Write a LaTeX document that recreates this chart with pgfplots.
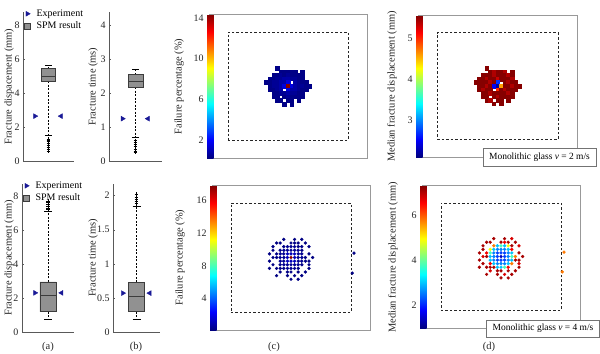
\documentclass[border=0pt]{standalone}
\usepackage{fontspec}
\setmainfont{Liberation Serif}
\usepackage{pgfplots}
\usepackage{pgfplotstable}
\pgfplotsset{compat=1.18}

\definecolor{boxgray}{RGB}{145,145,145}
\definecolor{boxedge}{RGB}{60,60,60}
\definecolor{expblue}{RGB}{25,25,150}

% top map cells: x y  failure% (c)  median displacement (d)
\pgfplotstableread{
x y p d
-3 5 0.3 5.54
-2 4 0.3 5.54
-1 4 0.3 5.4
0 4 0.3 5.54
1 4 0.3 5.54
2 4 0.3 5.4
4 4 0.3 5.54
-4 3 0.3 5.54
-3 3 0.3 5.54
-2 3 0.5 5.54
-1 3 0.3 5.4
0 3 0.5 5.54
1 3 0.3 5.54
2 3 0.3 5.54
3 3 0.3 5.4
4 3 0.3 5.54
-5 2 0.3 5.54
-4 2 0.3 5.54
-3 2 0.5 5.4
-2 2 0.5 5.54
-1 2 0.75 5.54
0 2 0.75 5.3
1 2 0.5 5.54
2 2 0.5 5.54
3 2 0.3 5.54
4 2 0.3 5.4
-6 1 0.3 5.54
-5 1 0.3 5.54
-4 1 0.5 5.54
-3 1 0.5 5.54
-2 1 0.75 5.4
-1 1 0.75 5.54
0 1 1.5 2.7
2 1 0.75 5.54
3 1 0.5 5.4
4 1 0.3 5.54
5 1 0.3 5.54
-5 0 0.3 5.54
-4 0 0.5 5.54
-3 0 0.5 5.4
-2 0 0.75 5.54
-1 0 1.5 2.5
0 0 14.3 2.2
1 0 1.5 4.6
2 0 0.75 5.54
3 0 0.5 5.54
4 0 0.5 5.4
5 0 0.3 5.54
6 0 0.3 5.54
-5 -1 0.3 5.54
-4 -1 0.3 5.4
-3 -1 0.5 5.54
-2 -1 0.75 5.54
0 -1 1.5 5.0
1 -1 0.75 5.54
2 -1 0.75 5.4
3 -1 0.5 5.54
4 -1 0.3 5.54
5 -1 0.3 5.54
-4 -2 0.3 5.54
-3 -2 0.3 5.54
-2 -2 0.5 5.4
-1 -2 0.5 5.54
0 -2 0.75 5.54
1 -2 0.5 5.54
2 -2 0.5 5.54
3 -2 0.3 5.4
4 -2 0.3 5.54
-4 -3 0.3 5.54
-3 -3 0.3 5.54
-1 -3 0.3 5.54
0 -3 0.5 5.4
1 -3 0.3 5.54
2 -3 0.3 5.54
3 -3 0.3 5.54
4 -3 0.3 5.54
-3 -4 0.3 5.54
-2 -4 0.3 5.4
0 -4 0.3 5.54
1 -4 0.3 5.54
3 -4 0.3 5.54
-1 -5 0.3 5.54
1 -5 0.3 5.54
}\toppts

% bottom map points
\pgfplotstableread{
x y p d
-1 3 0.5 3.0
0 3 0.5 3.8
1 3 0.5 3.0
-2 2 0.5 3.0
-1 2 0.5 2.6
0 2 0.5 2.6
1 2 0.5 2.6
2 2 0.5 3.0
-3 1 0.5 3.8
-2 1 0.5 2.6
-1 1 1.2 2.2
0 1 1.2 2.2
1 1 1.2 2.2
2 1 0.5 2.6
3 1 0.5 3.0
-3 0 0.5 3.0
-2 0 0.5 2.6
-1 0 1.2 2.2
1 0 1.2 2.2
2 0 0.5 2.6
3 0 0.5 3.8
-3 -1 0.5 3.0
-2 -1 0.5 2.6
-1 -1 1.2 2.2
0 -1 1.2 2.2
1 -1 1.2 2.2
2 -1 0.5 2.6
3 -1 0.5 3.0
-2 -2 0.5 3.0
-1 -2 0.5 2.6
0 -2 0.5 2.6
1 -2 0.5 2.6
2 -2 0.5 3.0
-1 -3 0.5 3.0
0 -3 0.5 3.0
1 -3 0.5 3.8
-2 3 0.3 5.8
2 3 0.3 4.9
-3 2 0.3 4.9
3 2 0.3 6.6
-3 -2 0.3 6.6
3 -2 0.3 5.8
-2 -3 0.3 7.1
2 -3 0.3 6.6
-4 0 0.3 7.1
4 0 0.3 5.8
0 4 0.3 7.1
0 -4 0.3 7.1
-4 1 0.3 6.6
4 -1 0.3 7.1
1 4 0.3 6.6
-1 -4 0.3 7.1
3 3 0.3 7.1
-3 -3 0.3 7.1
-2 5 0.25 7.1
1 5 0.25 7.1
3 5 0.25 6.8
-4 4 0.25 7.1
-3 4 0.25 7.1
2 4 0.25 7.1
4 4 0.25 7.1
-5 3 0.25 7.1
5 3 0.25 6.8
-5 2 0.25 7.1
-6 1 0.25 7.1
5 1 0.25 7.1
-5 0 0.25 6.8
6 0 0.25 7.1
-6 -1 0.25 7.1
5 -1 0.25 7.1
-5 -2 0.25 7.1
5 -2 0.25 6.8
-6 -3 0.25 7.1
-4 -3 0.25 7.1
5 -3 0.25 7.1
-3 -4 0.25 6.8
2 -4 0.25 7.1
4 -4 0.25 7.1
-4 -5 0.25 7.1
-1 -5 0.25 7.1
1 -5 0.25 6.8
3 -5 0.25 7.1
0 -6 0.25 7.1
2 -6 0.25 7.1
17.5 1.2 0.25 5.8
17 -4.3 0.25 5.8
0 0 17.6 1.4
}\botpts

\pgfplotsset{
  boxax/.style={scale only axis, axis x line=bottom, axis y line=left,
    axis line style={-, black!65}, xmin=0, xmax=2, ymin=0, xtick=\empty,
    tick align=inside, major tick length=2bp, ytick style={black!65},
    tick label style={font=\fontsize{10}{12}\selectfont, text=black!85},
    /pgf/number format/assume math mode=true, clip=false},
  leg/.style={legend style={at={(0,1.03)}, anchor=north west, draw=none, fill=none, inner sep=0pt,
    font=\fontsize{10}{11}\selectfont, row sep=0bp, cells={anchor=west}},
    legend image code/.code={\path (0bp,0bp) (11bp,0bp); \draw[mark repeat=2,mark phase=2,##1] plot coordinates {(0bp,0bp) (4bp,0bp) (8bp,0bp)};}},
  whisk/.style={forget plot, black, line width=0.6bp, dash pattern=on 2bp off 1.5bp},
  capst/.style={forget plot, black, line width=0.6bp},
  outl/.style={forget plot, only marks, mark=+, mark size=1.8bp, black, mark options={line width=0.6bp}},
  expr/.style={only marks, mark=triangle*, mark size=2.8bp, mark options={rotate=-90, fill=expblue, draw=expblue}},
  expl/.style={forget plot, only marks, mark=triangle*, mark size=2.8bp, mark options={rotate=90, fill=expblue, draw=expblue}},
  mapax/.style={scale only axis, xmin=-21.95, xmax=21.95, ymin=-20, ymax=20,
    xtick=\empty, ytick=\empty, axis line style={black!40}, colormap/jet, colorbar,
    colorbar style={at={(parent axis.south west)}, anchor=south east, xshift=-4bp,
      width=6.5bp, scale only axis, yticklabel pos=left, major tick length=0pt,
      axis line style={draw=none},
      tick label style={font=\fontsize{10}{12}\selectfont, text=black!85},
      /pgf/number format/assume math mode=true}},
  rect/.style={forget plot, black!85, line width=0.6bp, dash pattern=on 2.5bp off 2bp},
  sq/.style={scatter, only marks, scatter src=explicit, scatter/use mapped color={draw=mapped color, fill=mapped color}, mark=square*, mark size=1.8bp},
  dot/.style={scatter, only marks, scatter src=explicit, scatter/use mapped color={draw=mapped color, fill=mapped color}, mark=*, mark size=1.45bp},
}

\begin{document}
\begin{tikzpicture}[x=1bp,y=1bp]
\useasboundingbox (0,0) rectangle (600,353);

% ---------- (a) top ----------
\begin{axis}[boxax, leg, at={(23bp,192bp)}, width=51bp, height=149bp, ymax=8.8,
  ytick={0,2,4,6,8}]
\addplot[expr] coordinates {(0.47,2.65)};
\addplot[expl] coordinates {(1.49,2.65)};
\addlegendimage{only marks, mark=square*, mark size=2.8bp, mark options={fill=boxgray, draw=boxedge}}
\addplot[whisk] coordinates {(1,5.45) (1,5.65)};
\addplot[whisk] coordinates {(1,4.72) (1,1.5)};
\addplot[capst] coordinates {(0.855,5.65) (1.145,5.65)};
\addplot[capst] coordinates {(0.855,1.5) (1.145,1.5)};
\addplot[forget plot, fill=boxgray, draw=boxedge, line width=0.6bp] coordinates {(0.725,4.72) (1.275,4.72) (1.275,5.45) (0.725,5.45) (0.725,4.72)};
\addplot[forget plot, boxedge, line width=0.7bp] coordinates {(0.725,5.0) (1.275,5.0)};
\addplot[outl] coordinates {(1,0.6) (1,0.7) (1,0.8) (1,0.9) (1,1.05) (1,1.15) (1,1.25) (1,1.3)};
\legend{Experiment, SPM result}
\end{axis}

% ---------- (b) top ----------
\begin{axis}[boxax, at={(109bp,192bp)}, width=53bp, height=149bp, ymax=4.4,
  ytick={0,1,2,3,4}]
\addplot[forget plot, only marks, mark=triangle*, mark size=2.8bp, mark options={rotate=-90, fill=expblue, draw=expblue}] coordinates {(0.51,1.25)};
\addplot[expl] coordinates {(1.47,1.25)};
\addplot[whisk] coordinates {(1,2.55) (1,2.7)};
\addplot[whisk] coordinates {(1,2.18) (1,0.7)};
\addplot[capst] coordinates {(0.86,2.7) (1.14,2.7)};
\addplot[capst] coordinates {(0.86,0.7) (1.14,0.7)};
\addplot[forget plot, fill=boxgray, draw=boxedge, line width=0.6bp] coordinates {(0.72,2.18) (1.28,2.18) (1.28,2.55) (0.72,2.55) (0.72,2.18)};
\addplot[forget plot, boxedge, line width=0.7bp] coordinates {(0.72,2.35) (1.28,2.35)};
\addplot[outl] coordinates {(1,0.25) (1,0.3) (1,0.36) (1,0.42) (1,0.48) (1,0.55) (1,0.6)};
\end{axis}

% ---------- (a) bottom ----------
\begin{axis}[boxax, leg, at={(22bp,21bp)}, width=52bp, height=148bp, ymax=8.7,
  ytick={0,2,4,6,8}]
\addplot[expr] coordinates {(0.5,2.3)};
\addplot[expl] coordinates {(1.52,2.3)};
\addlegendimage{only marks, mark=square*, mark size=2.8bp, mark options={fill=boxgray, draw=boxedge}}
\addplot[whisk] coordinates {(1,2.95) (1,7.1)};
\addplot[whisk] coordinates {(1,1.2) (1,0.75)};
\addplot[capst] coordinates {(0.85,7.1) (1.15,7.1)};
\addplot[capst] coordinates {(0.85,0.75) (1.15,0.75)};
\addplot[forget plot, fill=boxgray, draw=boxedge, line width=0.6bp] coordinates {(0.69,1.2) (1.31,1.2) (1.31,2.95) (0.69,2.95) (0.69,1.2)};
\addplot[forget plot, boxedge, line width=0.7bp] coordinates {(0.69,2.15) (1.31,2.15)};
\addplot[outl] coordinates {(1,7.2) (1,7.3) (1,7.4) (1,7.5) (1,7.6) (1,7.7)};
\legend{Experiment, SPM result}
\end{axis}

% ---------- (b) bottom ----------
\begin{axis}[boxax, at={(113bp,21bp)}, width=47bp, height=148bp, ymax=2.17,
  ytick={0,0.5,1,1.5,2}]
\addplot[forget plot, only marks, mark=triangle*, mark size=2.8bp, mark options={rotate=-90, fill=expblue, draw=expblue}] coordinates {(0.42,0.57)};
\addplot[expl] coordinates {(1.56,0.57)};
\addplot[whisk] coordinates {(1,0.73) (1,1.85)};
\addplot[whisk] coordinates {(1,0.3) (1,0.18)};
\addplot[capst] coordinates {(0.83,1.85) (1.17,1.85)};
\addplot[capst] coordinates {(0.83,0.18) (1.17,0.18)};
\addplot[forget plot, fill=boxgray, draw=boxedge, line width=0.6bp] coordinates {(0.66,0.3) (1.34,0.3) (1.34,0.73) (0.66,0.73) (0.66,0.3)};
\addplot[forget plot, boxedge, line width=0.7bp] coordinates {(0.66,0.53) (1.34,0.53)};
\addplot[outl] coordinates {(1,1.88) (1,1.92) (1,1.95) (1,1.98) (1,2.02)};
\end{axis}

% ---------- (c) top ----------
\begin{axis}[mapax, at={(209bp,195bp)}, width=158bp, height=144bp,
  point meta min=0.2, point meta max=14.4, colorbar style={ytick={2,6,10,14}}]
\addplot[rect] coordinates {(-16.7,-15) (16.7,-15) (16.7,15) (-16.7,15) (-16.7,-15)};
\addplot[sq] table[x=x, y=y, meta=p] {\toppts};
\end{axis}

% ---------- (c) bottom ----------
\begin{axis}[mapax, at={(212bp,23bp)}, width=158bp, height=145bp,
  point meta min=0.2, point meta max=17.8, colorbar style={ytick={4,8,12,16}}]
\addplot[rect] coordinates {(-16.7,-15) (16.7,-15) (16.7,15) (-16.7,15) (-16.7,-15)};
\addplot[dot] table[x=x, y=y, meta=p] {\botpts};
\end{axis}

% ---------- (d) top ----------
\begin{axis}[mapax, at={(418bp,196bp)}, width=159bp, height=142bp,
  point meta min=2.1, point meta max=5.56, colorbar style={ytick={3,4,5}}]
\addplot[rect] coordinates {(-16.7,-15) (16.7,-15) (16.7,15) (-16.7,15) (-16.7,-15)};
\addplot[sq] table[x=x, y=y, meta=d] {\toppts};
\end{axis}

% ---------- (d) bottom ----------
\begin{axis}[mapax, at={(422bp,25bp)}, width=158bp, height=143bp,
  point meta min=1.0, point meta max=7.35, colorbar style={ytick={2,4,6}}]
\addplot[rect] coordinates {(-16.7,-15) (16.7,-15) (16.7,15) (-16.7,15) (-16.7,-15)};
\addplot[dot] table[x=x, y=y, meta=d] {\botpts};
\end{axis}

% y labels of the box plots
\node[rotate=90, font=\fontsize{10.5}{12}\selectfont, text=black!85] at (9,266.5) {Fracture dispacement (mm)};
\node[rotate=90, font=\fontsize{10.5}{12}\selectfont, text=black!85] at (9,95) {Fracture dispacement (mm)};
\node[rotate=90, font=\fontsize{10.5}{12}\selectfont, text=black!85] at (93,266.5) {Fracture time (ms)};
\node[rotate=90, font=\fontsize{10.5}{12}\selectfont, text=black!85] at (93,95) {Fracture time (ms)};

% colorbar labels
\node[rotate=90, font=\fontsize{10.5}{12}\selectfont, text=black!85] at (179,266.5) {Failure percentage (\%)};
\node[rotate=90, font=\fontsize{10.5}{12}\selectfont, text=black!85] at (180,95.5) {Failure percentage (\%)};
\node[rotate=90, font=\fontsize{10.5}{12}\selectfont, text=black!85] at (392,266.5) {Median fracture displacement (mm)};
\node[rotate=90, font=\fontsize{10.5}{12}\selectfont, text=black!85] at (393,95.5) {Median fracture displacement (mm)};

% text boxes
\node[draw=black!55, fill=white, line width=0.6bp, font=\fontsize{9.5}{11}\selectfont, minimum width=113bp, minimum height=18bp, inner sep=1bp] at (539.5,196) {Monolithic glass \textit{v} = 2 m/s};
\node[draw=black!55, fill=white, line width=0.6bp, font=\fontsize{9.5}{11}\selectfont, minimum width=113bp, minimum height=17bp, inner sep=1bp] at (543,24.5) {Monolithic glass \textit{v} = 4 m/s};

% subfigure labels
\foreach \xx/\lab in {48/(a), 136/(b), 274/(c), 489/(d)}
  \node[font=\fontsize{10.5}{12}\selectfont, text=black!85] at (\xx,6) {\lab};
\end{tikzpicture}
\end{document}
